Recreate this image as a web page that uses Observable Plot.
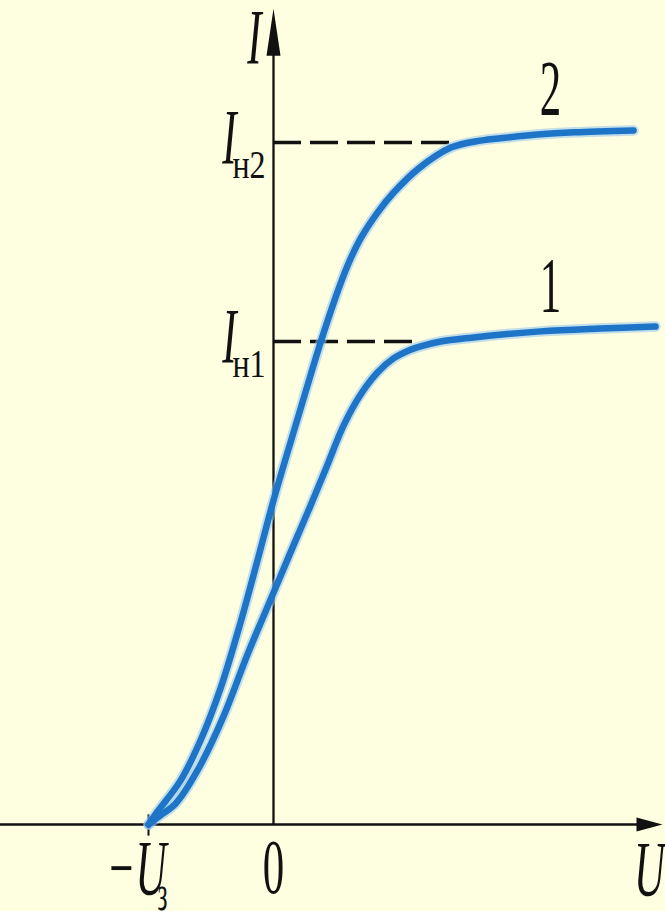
<!DOCTYPE html>
<html><head><meta charset="utf-8">
<script src="https://cdn.jsdelivr.net/npm/d3@7"></script>
<script src="https://cdn.jsdelivr.net/npm/@observablehq/plot@0.6"></script>
<style>html,body{margin:0;padding:0;background:#fefee1;} #chart{width:665px;height:911px;overflow:hidden;}</style>
</head><body><div id="chart"></div>
<script>
// Current–voltage characteristics of a photocell (U in units of U_з, I in units of I_н1)
const curve1U = [-1.000,-0.904,-0.784,-0.608,-0.400,-0.208,0.000,0.160,0.296,0.432,0.560,0.696,0.832,0.960,1.096,1.176,1.336,1.584,2.136,2.616,3.056];
const curve1I = [0.000,0.019,0.043,0.112,0.224,0.352,0.480,0.578,0.660,0.745,0.826,0.890,0.936,0.965,0.983,0.990,1.000,1.008,1.021,1.027,1.031];
const curve2U = [-1.000,-0.928,-0.744,-0.584,-0.424,-0.264,-0.128,0.000,0.160,0.296,0.400,0.496,0.592,0.696,0.832,0.960,1.160,1.424,1.656,1.856,2.136,2.408,2.880];
const curve2I = [0.000,0.027,0.091,0.174,0.282,0.418,0.547,0.671,0.812,0.930,1.017,1.091,1.157,1.213,1.267,1.308,1.358,1.402,1.416,1.422,1.429,1.433,1.437];
const curveNames = ["1", "2"];
const saturationLevels = [1.000, 1.412];
const saturationEnds = [1.120, 1.424];
const saturationSubs = ["н1", "н2"];
const stopVoltage = -1;
const curveLabelU = 2.136;
const uDomain = [-2.184, 3.136];
const iDomain = [-0.180, 1.706];
const uAxisEnd = 3.112;
const iAxisEnd = 1.689;
const axisLabelI = "I";
const axisLabelU = "U";
const zeroLabel = "0";
const stopLabel = "−U";
const stopSub = "з";

const rows = [];
curve1U.forEach((u, k) => rows.push({curve: curveNames[0], u, i: curve1I[k]}));
curve2U.forEach((u, k) => rows.push({curve: curveNames[1], u, i: curve2I[k]}));
const satRows = saturationLevels.map((v, k) => ({level: v, end: saturationEnds[k], sub: saturationSubs[k]}));
const labIdx1 = curve1U.indexOf(curveLabelU), labIdx2 = curve2U.indexOf(curveLabelU);
const curveLabelRows = [
  {u: curveLabelU, i: curve1I[labIdx1], t: curveNames[0]},
  {u: curveLabelU, i: curve2I[labIdx2], t: curveNames[1]}
];

const arrowUp = {draw(ctx) { ctx.moveTo(0, 0); ctx.lineTo(7, 47); ctx.lineTo(-7, 47); ctx.closePath(); }};
const arrowRight = {draw(ctx) { ctx.moveTo(0, 0); ctx.lineTo(-26, -7); ctx.lineTo(-26, 7); ctx.closePath(); }};

const font = "'Liberation Serif', 'Times New Roman', serif";
const blue = "#1e74c6";
const ink = "#111";

const svg = Plot.plot({
  width: 665, height: 911, margin: 0,
  x: {type: "linear", domain: uDomain, axis: null},
  y: {type: "linear", domain: iDomain, axis: null},
  style: {background: "#fefee1", overflow: "visible"},
  marks: [
    Plot.ruleY([0], {x1: uDomain[0], x2: uAxisEnd - 0.1, stroke: ink, strokeWidth: 2.5}),
    Plot.ruleX([0], {y1: 0, y2: iAxisEnd - 0.05, stroke: ink, strokeWidth: 2.3}),
    Plot.ruleX([stopVoltage], {y1: -0.024, y2: 0.02, stroke: ink, strokeWidth: 2}),
    Plot.dot([{u: 0, i: iAxisEnd}], {x: "u", y: "i", symbol: arrowUp, fill: ink, stroke: "none"}),
    Plot.dot([{u: uAxisEnd, i: 0}], {x: "u", y: "i", symbol: arrowRight, fill: ink, stroke: "none"}),
    Plot.ruleY(satRows, {y: "level", x1: 0, x2: "end", stroke: ink, strokeWidth: 3.5, strokeDasharray: "28,9"}),
    Plot.line(rows, {x: "u", y: "i", z: "curve", stroke: "#8fc3ee", strokeWidth: 10.5, strokeOpacity: 0.55, curve: "catmull-rom"}),
    Plot.line(rows, {x: "u", y: "i", z: "curve", stroke: blue, strokeWidth: 6.5, curve: "catmull-rom"}),
    // axis labels
    Plot.text([{u: 0, i: iAxisEnd, t: axisLabelI}], {x: "u", y: "i", text: "t", fontFamily: font, fontSize: 78, fontStyle: "italic", fill: ink, textAnchor: "middle", lineAnchor: "bottom", dx: -19, dy: 54, ariaDescription: "main"}),
    Plot.text([{u: uAxisEnd, i: 0, t: axisLabelU}], {x: "u", y: "i", text: "t", fontFamily: font, fontSize: 78, fontStyle: "italic", fill: ink, textAnchor: "middle", lineAnchor: "bottom", dx: -13, dy: 70, ariaDescription: "main"}),
    Plot.text([{u: 0, i: 0, t: zeroLabel}], {x: "u", y: "i", text: "t", fontFamily: font, fontSize: 78, fill: ink, textAnchor: "middle", lineAnchor: "bottom", dx: 0, dy: 68, ariaDescription: "main"}),
    Plot.text([{u: stopVoltage, i: 0, t: stopLabel}], {x: "u", y: "i", text: "t", fontFamily: font, fontSize: 78, fontStyle: "italic", fill: ink, textAnchor: "middle", lineAnchor: "bottom", dx: -12, dy: 69, ariaDescription: "main"}),
    Plot.text([{u: stopVoltage, i: 0, t: stopSub}], {x: "u", y: "i", text: "t", fontFamily: font, fontSize: 50, fill: ink, textAnchor: "start", lineAnchor: "bottom", dx: 9, dy: 85, ariaDescription: "sub2"}),
    // saturation current labels
    Plot.text(satRows, {x: () => 0, y: "level", text: () => "I", fontFamily: font, fontSize: 78, fontStyle: "italic", fill: ink, textAnchor: "middle", lineAnchor: "bottom", dx: -44, dy: 20, ariaDescription: "main"}),
    Plot.text(satRows, {x: () => 0, y: "level", text: "sub", fontFamily: font, fontSize: 40, fill: ink, textAnchor: "start", lineAnchor: "bottom", dx: -41, dy: 35, ariaDescription: "sub"}),
    // curve labels
    Plot.text(curveLabelRows, {x: "u", y: "i", text: "t", fontFamily: font, fontSize: 78, fill: ink, textAnchor: "middle", lineAnchor: "bottom", dx: 10, dy: -20, ariaDescription: "main"})
  ]
});

const squeeze = {main: 0.55, sub: 0.8, sub2: 0.5};
for (const [k, s] of Object.entries(squeeze)) {
  svg.querySelectorAll(`g[aria-description="${k}"] text`).forEach(t => {
    t.setAttribute("transform", (t.getAttribute("transform") || "") + ` scale(${s},1)`);
  });
}
document.getElementById("chart").appendChild(svg);
</script>
</body></html>
